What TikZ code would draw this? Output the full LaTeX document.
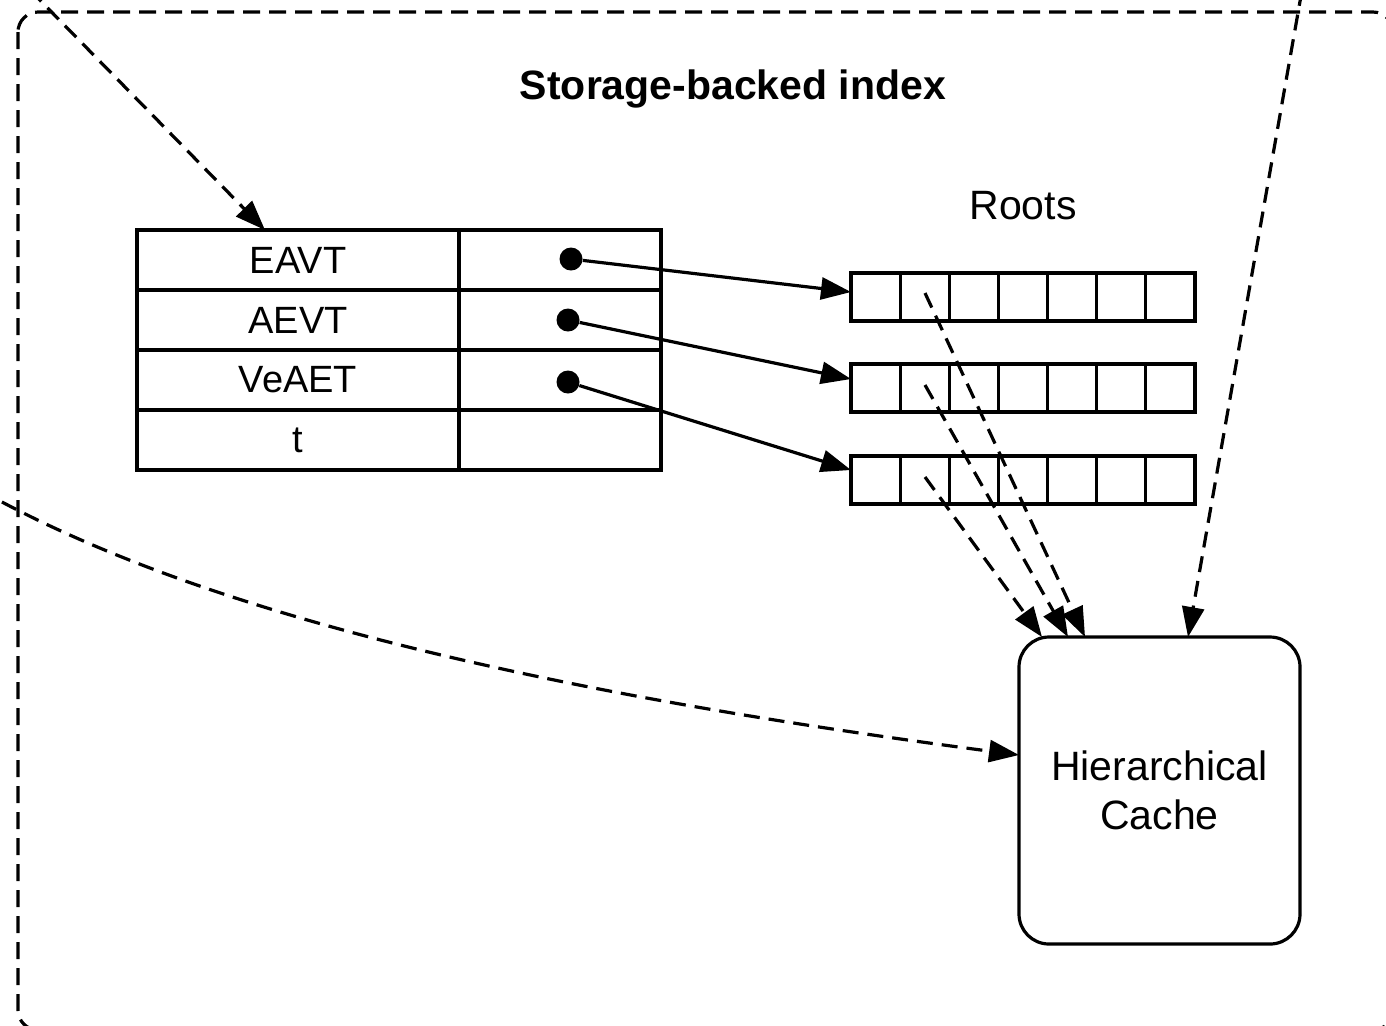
\documentclass[tikz,border=0pt]{standalone}
\usepackage{fontspec}
\setmainfont{Liberation Sans}
\usetikzlibrary{calc,arrows.meta}
\tikzset{
	box/.style={draw, line width=1.6pt, inner sep=0pt, outer sep=0pt},
	cell/.style={box, minimum height=30pt, font=\fontsize{19}{22}\selectfont},
	keycell/.style={cell, minimum width=161pt},
	ptrcell/.style={cell, minimum width=101pt},
	rootarr/.style={box, minimum width=172pt, minimum height=24pt},
	cachebox/.style={box, rounded corners=15pt, minimum width=140.5pt, minimum height=153.5pt, align=center, font=\fontsize{20.5}{24.5}\selectfont},
	ptr/.style={circle, fill=black, inner sep=0pt, minimum size=11.5pt},
	link/.style={line width=1.6pt, -{Triangle[length=15pt,width=11pt]}},
	dlink/.style={link, dash pattern=on 8pt off 4.5pt},
}

\begin{document}
\begin{tikzpicture}[x=0.5pt, y=-0.5pt]
		%%%%% START %%%%%
		\useasboundingbox (0, 0) rectangle (1386, 1025);
		\clip (0, 0) rectangle (1386, 1025);
		
		\draw[line width=1.6pt, dash pattern=on 8.5pt off 4.5pt, rounded corners=10pt] (18, 12) rectangle (1393, 1030);
		\node[anchor=base, font=\bfseries\fontsize{20.5}{24}\selectfont] (title) at (733, 99) {Storage-backed index};
		
		% index table
		\node[keycell] (eavt) at (298, 260) {EAVT};
		\node[keycell] (aevt) at (298, 320) {AEVT};
		\node[keycell] (veaet) at (298, 380) {VeAET};
		\node[keycell] (t) at (298, 440) {t};
		\node[ptrcell] (eavtp) at (560, 260) {};
		\node[ptrcell] (aevtp) at (560, 320) {};
		\node[ptrcell] (veaetp) at (560, 380) {};
		\node[ptrcell] (tp) at (560, 440) {};
		
		\node[ptr] (d1) at (571, 259) {};
		\node[ptr] (d2) at (568, 320) {};
		\node[ptr] (d3) at (568, 382) {};
		
		% roots
		\node[anchor=base, font=\fontsize{20.5}{24}\selectfont] (roots) at (1023, 219) {Roots};
		\node[rootarr] (r1) at (1023, 297) {};
		\node[rootarr] (r2) at (1023, 388) {};
		\node[rootarr] (r3) at (1023, 480) {};
		\foreach \r in {r1,r2,r3}
			\foreach \i in {1,...,6}
				\draw[line width=1.6pt] ($(\r.north west)!\i/7!(\r.north east)$) -- ($(\r.south west)!\i/7!(\r.south east)$);
		
		\draw[link] (d1) -- ([yshift=2.5pt]r1.west);
		\draw[link] (d2) -- ([yshift=4.5pt]r2.west);
		\draw[link] (d3) -- ([yshift=5pt]r3.west);
		
		% cache
		\node[cachebox] (cache) at (1159.5, 790.5) {Hierarchical\\Cache};
		
		\path (r1.north west) ++(74, 20) coordinate (s1);
		\path (r2.north west) ++(74, 21) coordinate (s2);
		\path (r3.north west) ++(74, 21) coordinate (s3);
		\draw[dlink] (s1) -- ([xshift=33pt]cache.north west);
		\draw[dlink] (s2) -- ([xshift=24.5pt]cache.north west);
		\draw[dlink] (s3) -- ([xshift=11.5pt]cache.north west);
		
		% from outside the frame
		\coordinate (tl) at (30, -10);
		\coordinate (tr) at (1302, -10);
		\coordinate (lf) at (-20, 490);
		\draw[dlink] (tl) -- ([xshift=-16.5pt]eavt.north);
		\draw[dlink] (tr) -- ([xshift=84.5pt]cache.north west);
		\draw[dlink] (lf) .. controls (220, 625) and (600, 700) .. ([yshift=17.75pt]cache.west);
		
		%%%%% END %%%%%
	\end{tikzpicture}
\end{document}
